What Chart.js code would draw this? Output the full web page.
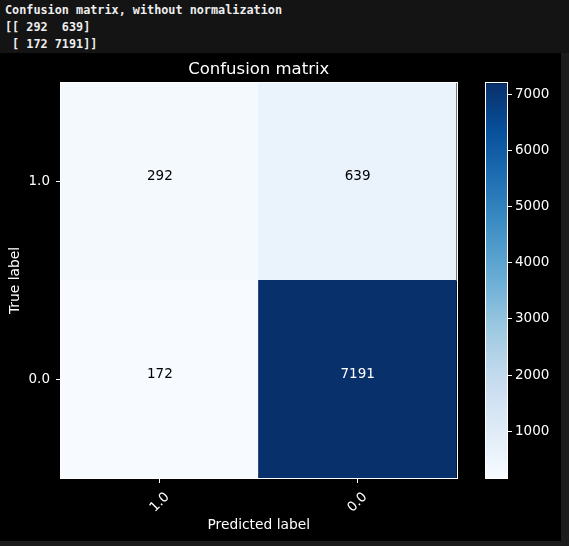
<!DOCTYPE html>
<html>
<head>
<meta charset="utf-8">
<script src="https://cdn.jsdelivr.net/npm/chart.js@4.4.0/dist/chart.umd.min.js"></script>
<style>
  html, body { margin: 0; padding: 0; }
  body { width: 569px; height: 546px; background: #1c1c1c; position: relative; overflow: hidden; }
  #out {
    position: absolute; left: 0; top: 0; width: 569px; height: 53px; margin: 0;
    padding: 2px 0 0 5px; box-sizing: border-box; background: #141414; color: #eeeeee;
    font: bold 11.8px/17px "DejaVu Sans Mono", monospace; white-space: pre;
  }
  #fig { position: absolute; left: 0; top: 53px; width: 561px; height: 488px; background: #000; }
  #cm { position: absolute; left: 0; top: 0; }
  #cbar { position: absolute; left: 480px; top: 0; }
</style>
</head>
<body>
<pre id="out"></pre>
<div id="fig">
  <canvas id="cm" width="561" height="488"></canvas>
  <canvas id="cbar" width="81" height="488"></canvas>
</div>
<script>
// classes, top row first (true 1.0, then true 0.0)
const classes   = ["1.0", "0.0"];
const rowTrue10 = [292, 639];    // true 1.0 -> predicted 1.0 / 0.0
const rowTrue00 = [172, 7191];   // true 0.0 -> predicted 1.0 / 0.0
const cbarTicks = [1000, 2000, 3000, 4000, 5000, 6000, 7000];

const allCounts = rowTrue10.concat(rowTrue00);
const vmin = Math.min(...allCounts);
const vmax = Math.max(...allCounts);

// printed output above the figure (numpy style)
const fmt = v => String(v).padStart(4, " ");
document.getElementById("out").textContent =
  "Confusion matrix, without normalization\n" +
  "[[" + fmt(rowTrue10[0]) + " " + fmt(rowTrue10[1]) + "]\n" +
  " [" + fmt(rowTrue00[0]) + " " + fmt(rowTrue00[1]) + "]]";

// matplotlib "Blues"
const BLUES = ["#f7fbff", "#deebf7", "#c6dbef", "#9ecae1", "#6baed6",
               "#4292c6", "#2171b5", "#08519c", "#08306b"];
const hex = h => [1, 3, 5].map(i => parseInt(h.slice(i, i + 2), 16));
function blues(v) {
  const t = Math.min(1, Math.max(0, (v - vmin) / (vmax - vmin)));
  const p = t * (BLUES.length - 1);
  const i = Math.min(Math.floor(p), BLUES.length - 2);
  const f = p - i;
  const a = hex(BLUES[i]), b = hex(BLUES[i + 1]);
  const c = a.map((x, k) => Math.round(x + (b[k] - x) * f));
  return `rgb(${c[0]},${c[1]},${c[2]})`;
}

Chart.defaults.font.family = "'DejaVu Sans', sans-serif";
Chart.defaults.color = "#ffffff";

// white frame round the plot area (spines)
const spines = {
  id: "spines",
  afterDraw(chart) {
    const { ctx, chartArea: a } = chart;
    ctx.save();
    ctx.strokeStyle = "#ffffff";
    ctx.lineWidth = 1;
    ctx.strokeRect(Math.round(a.left) - 0.5, Math.round(a.top) - 0.5,
                   Math.round(a.width) + 1, Math.round(a.height) + 1);
    ctx.restore();
  }
};

// counts in the cells + rotated x tick labels (centered like matplotlib)
const cellText = {
  id: "cellText",
  afterDatasetsDraw(chart) {
    const { ctx } = chart;
    ctx.save();
    ctx.font = "13.5px 'DejaVu Sans'";
    ctx.textAlign = "center";
    ctx.textBaseline = "middle";
    chart.data.datasets.forEach((ds, i) => {
      chart.getDatasetMeta(i).data.forEach((bar, j) => {
        const n = ds.counts[j];
        ctx.fillStyle = n > vmax / 2 ? "#ffffff" : "#000000";
        ctx.fillText(String(n), bar.x, (bar.y + bar.base) / 2 - 5);
      });
    });
    ctx.restore();
  },
  afterDraw(chart) {
    const { ctx, chartArea: a } = chart;
    const xs = chart.scales.x;
    ctx.save();
    ctx.font = "13.5px 'DejaVu Sans'";
    ctx.fillStyle = "#ffffff";
    ctx.textAlign = "center";
    ctx.textBaseline = "middle";
    classes.forEach((c, i) => {
      ctx.save();
      ctx.translate(xs.getPixelForValue(i), a.bottom + 24.5);
      ctx.rotate(-Math.PI / 4);
      ctx.fillText(c, 0, 0);
      ctx.restore();
    });
    ctx.restore();
  }
};

new Chart(document.getElementById("cm"), {
  type: "bar",
  data: {
    labels: classes,
    datasets: [
      { label: "true 0.0", data: [[0, 1], [0, 1]], counts: rowTrue00,
        backgroundColor: rowTrue00.map(blues) },
      { label: "true 1.0", data: [[1, 2], [1, 2]], counts: rowTrue10,
        backgroundColor: rowTrue10.map(blues) }
    ]
  },
  options: {
    responsive: false,
    animation: false,
    layout: { padding: { left: 0, top: 0, right: 104.5, bottom: 0 } },
    datasets: { bar: { barPercentage: 1, categoryPercentage: 1, borderWidth: 0, inflateAmount: 0.6 } },
    plugins: {
      legend: { display: false },
      tooltip: { enabled: false },
      title: {
        display: true, text: "Confusion matrix", color: "#ffffff", fullSize: false,
        font: { size: 16.5, weight: "normal" }, padding: { top: 6.7, bottom: 3.5 }
      }
    },
    scales: {
      x: {
        stacked: true,
        grid: { offset: false, drawOnChartArea: false, drawTicks: true, tickLength: 5, color: "#ffffff" },
        border: { display: false },
        ticks: { display: false },
        title: { display: true, text: "Predicted label", color: "#ffffff",
                 font: { size: 13.8 }, padding: { top: 0, bottom: 7.7 } },
        afterFit: s => { s.height = 63; }
      },
      y: {
        min: 0, max: 2,
        afterBuildTicks: s => { s.ticks = classes.map((c, r) => ({ value: classes.length - r - 0.5 })); },
        ticks: {
          color: "#ffffff", font: { size: 13.5 }, padding: 6,
          callback: v => classes[classes.length - 0.5 - v]
        },
        grid: { drawOnChartArea: false, drawTicks: true, tickLength: 5, color: "#ffffff" },
        border: { display: false },
        title: { display: true, text: "True label", color: "#ffffff",
                 font: { size: 13.8 }, padding: { top: 7, bottom: 0 } },
        afterFit: s => { s.width = 61; }
      }
    }
  },
  plugins: [cellText, spines]
});

// colorbar
new Chart(document.getElementById("cbar"), {
  type: "bar",
  data: {
    labels: [""],
    datasets: [{
      data: [[vmin, vmax]],
      borderWidth: 0,
      barPercentage: 1,
      categoryPercentage: 1,
      backgroundColor: ctx => {
        const a = ctx.chart.chartArea;
        if (!a) return BLUES[0];
        const g = ctx.chart.ctx.createLinearGradient(0, a.bottom, 0, a.top);
        BLUES.forEach((c, i) => g.addColorStop(i / (BLUES.length - 1), c));
        return g;
      }
    }]
  },
  options: {
    responsive: false,
    animation: false,
    layout: { padding: { left: 6, top: 30.3, right: 0, bottom: 63 } },
    plugins: { legend: { display: false }, tooltip: { enabled: false } },
    scales: {
      x: { display: false },
      y: {
        position: "right",
        min: vmin, max: vmax, beginAtZero: false,
        afterBuildTicks: s => { s.ticks = cbarTicks.map(v => ({ value: v })); },
        ticks: { color: "#ffffff", font: { size: 13.5 }, padding: 3, callback: v => String(v) },
        grid: { drawOnChartArea: false, drawTicks: true, tickLength: 5, color: "#ffffff" },
        border: { display: false },
        afterFit: s => { s.width = 54; }
      }
    }
  },
  plugins: [spines]
});
</script>
</body>
</html>
